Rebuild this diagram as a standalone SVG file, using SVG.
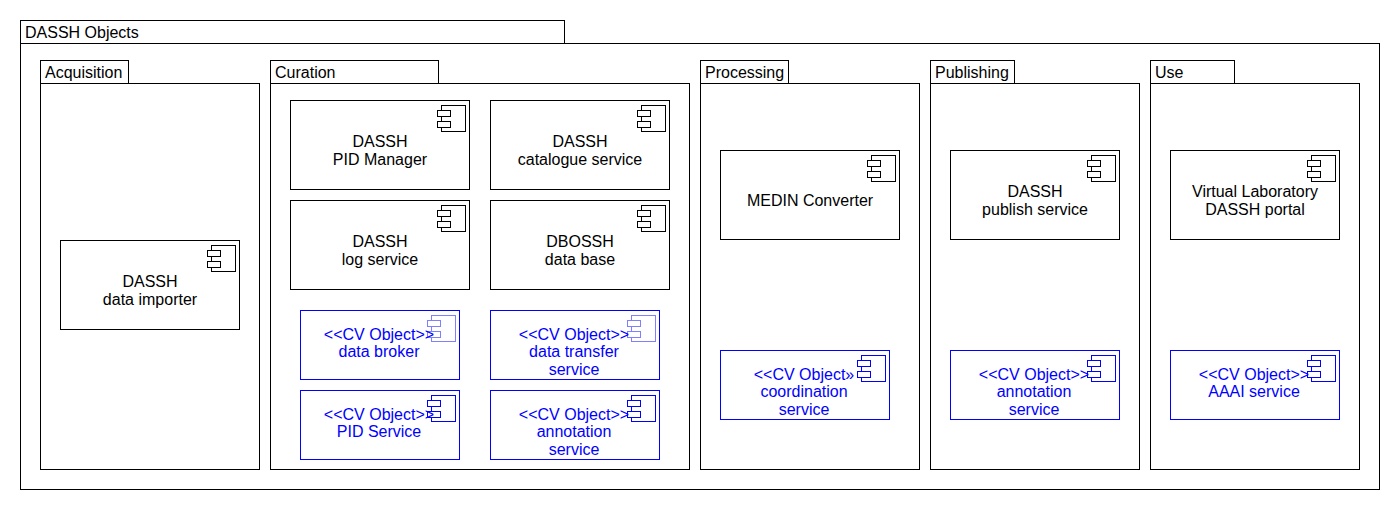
<svg xmlns="http://www.w3.org/2000/svg" width="1400" height="510" viewBox="0 0 1400 510">
<style>
text{font-family:"Liberation Sans",Arial,sans-serif;font-size:16px;fill:#000}
.c{text-anchor:middle}
.b{fill:#0000ff}
rect{fill:#fff;stroke:#000;stroke-width:1;shape-rendering:crispEdges}
.bl rect{stroke:#0000ff}
#icon rect{stroke:inherit}
use{stroke:#000}
.bl use{stroke:#0000ff}
.bl .pale use{stroke:#7f7fff}
</style>
<defs>
<g id="icon"><rect x="-24" y="0" width="24" height="26"/><rect x="-28" y="5" width="13" height="6"/><rect x="-28" y="16" width="13" height="6"/></g>
</defs>
<rect width="1400" height="510" style="fill:#fff;stroke:none"/>
<g id="pkg-dassh-objects"><rect x="20.5" y="20.5" width="544" height="23"/><rect x="20.5" y="43.5" width="1359" height="446"/><text x="25" y="38">DASSH Objects</text></g>
<g id="pkg-acquisition"><rect x="40.5" y="60.5" width="88" height="23"/><rect x="40.5" y="83.5" width="219" height="386"/><text x="45" y="78">Acquisition</text></g>
<g id="pkg-curation"><rect x="270.5" y="60.5" width="168" height="23"/><rect x="270.5" y="83.5" width="419" height="386"/><text x="275" y="78">Curation</text></g>
<g id="pkg-processing"><rect x="700.5" y="60.5" width="88" height="23"/><rect x="700.5" y="83.5" width="219" height="386"/><text x="705" y="78">Processing</text></g>
<g id="pkg-publishing"><rect x="930.5" y="60.5" width="84" height="23"/><rect x="930.5" y="83.5" width="209" height="386"/><text x="935" y="78">Publishing</text></g>
<g id="pkg-use"><rect x="1150.5" y="60.5" width="84" height="23"/><rect x="1150.5" y="83.5" width="209" height="386"/><text x="1155" y="78">Use</text></g>

<g id="data-importer"><rect x="60.5" y="240.5" width="179" height="89"/><use href="#icon" transform="translate(235.5,245.5)"/><text class="c" x="150" y="287">DASSH</text><text class="c" x="150" y="305">data importer</text></g>
<g id="pid-manager"><rect x="290.5" y="100.5" width="179" height="89"/><use href="#icon" transform="translate(465.5,105.5)"/><text class="c" x="380" y="147">DASSH</text><text class="c" x="380" y="165">PID Manager</text></g>
<g id="catalogue-service"><rect x="490.5" y="100.5" width="179" height="89"/><use href="#icon" transform="translate(665.5,105.5)"/><text class="c" x="580" y="147">DASSH</text><text class="c" x="580" y="165">catalogue service</text></g>
<g id="log-service"><rect x="290.5" y="200.5" width="179" height="89"/><use href="#icon" transform="translate(465.5,205.5)"/><text class="c" x="380" y="247">DASSH</text><text class="c" x="380" y="265">log service</text></g>
<g id="data-base"><rect x="490.5" y="200.5" width="179" height="89"/><use href="#icon" transform="translate(665.5,205.5)"/><text class="c" x="580" y="247">DBOSSH</text><text class="c" x="580" y="265">data base</text></g>
<g id="medin-converter"><rect x="720.5" y="150.5" width="179" height="89"/><use href="#icon" transform="translate(895.5,155.5)"/><text class="c" x="810" y="206">MEDIN Converter</text></g>
<g id="publish-service"><rect x="950.5" y="150.5" width="169" height="89"/><use href="#icon" transform="translate(1115.5,155.5)"/><text class="c" x="1035" y="197">DASSH</text><text class="c" x="1035" y="215">publish service</text></g>
<g id="portal"><rect x="1170.5" y="150.5" width="169" height="89"/><use href="#icon" transform="translate(1335.5,155.5)"/><text class="c" x="1255" y="197">Virtual Laboratory</text><text class="c" x="1255" y="215">DASSH portal</text></g>

<g id="data-broker" class="bl"><rect x="300.5" y="310.5" width="159" height="69"/><g class="pale"><use href="#icon" transform="translate(455.5,315.5)"/></g><text class="c b" x="379" y="340">&lt;&lt;CV Object&gt;&gt;</text><text class="c b" x="379" y="357">data broker</text></g>
<g id="data-transfer-service" class="bl"><rect x="490.5" y="310.5" width="169" height="69"/><g class="pale"><use href="#icon" transform="translate(655.5,315.5)"/></g><text class="c b" x="574" y="340">&lt;&lt;CV Object&gt;&gt;</text><text class="c b" x="574" y="357">data transfer</text><text class="c b" x="574" y="375">service</text></g>
<g id="pid-service" class="bl"><rect x="300.5" y="390.5" width="159" height="69"/><use href="#icon" transform="translate(455.5,395.5)"/><text class="c b" x="379" y="420">&lt;&lt;CV Object&gt;&gt;</text><text class="c b" x="379" y="437">PID Service</text></g>
<g id="annotation-service-curation" class="bl"><rect x="490.5" y="390.5" width="169" height="69"/><use href="#icon" transform="translate(655.5,395.5)"/><text class="c b" x="574" y="420">&lt;&lt;CV Object&gt;&gt;</text><text class="c b" x="574" y="437">annotation</text><text class="c b" x="574" y="455">service</text></g>
<g id="coordination-service" class="bl"><rect x="720.5" y="350.5" width="169" height="69"/><use href="#icon" transform="translate(885.5,355.5)"/><text class="c b" x="804" y="380">&lt;&lt;CV Object»</text><text class="c b" x="804" y="397">coordination</text><text class="c b" x="804" y="415">service</text></g>
<g id="annotation-service-publishing" class="bl"><rect x="950.5" y="350.5" width="169" height="69"/><use href="#icon" transform="translate(1115.5,355.5)"/><text class="c b" x="1034" y="380">&lt;&lt;CV Object&gt;&gt;</text><text class="c b" x="1034" y="397">annotation</text><text class="c b" x="1034" y="415">service</text></g>
<g id="aaai-service" class="bl"><rect x="1170.5" y="350.5" width="169" height="69"/><use href="#icon" transform="translate(1335.5,355.5)"/><text class="c b" x="1254" y="380">&lt;&lt;CV Object&gt;&gt;</text><text class="c b" x="1254" y="397">AAAI service</text></g>
<g id="connectors"></g>
</svg>
